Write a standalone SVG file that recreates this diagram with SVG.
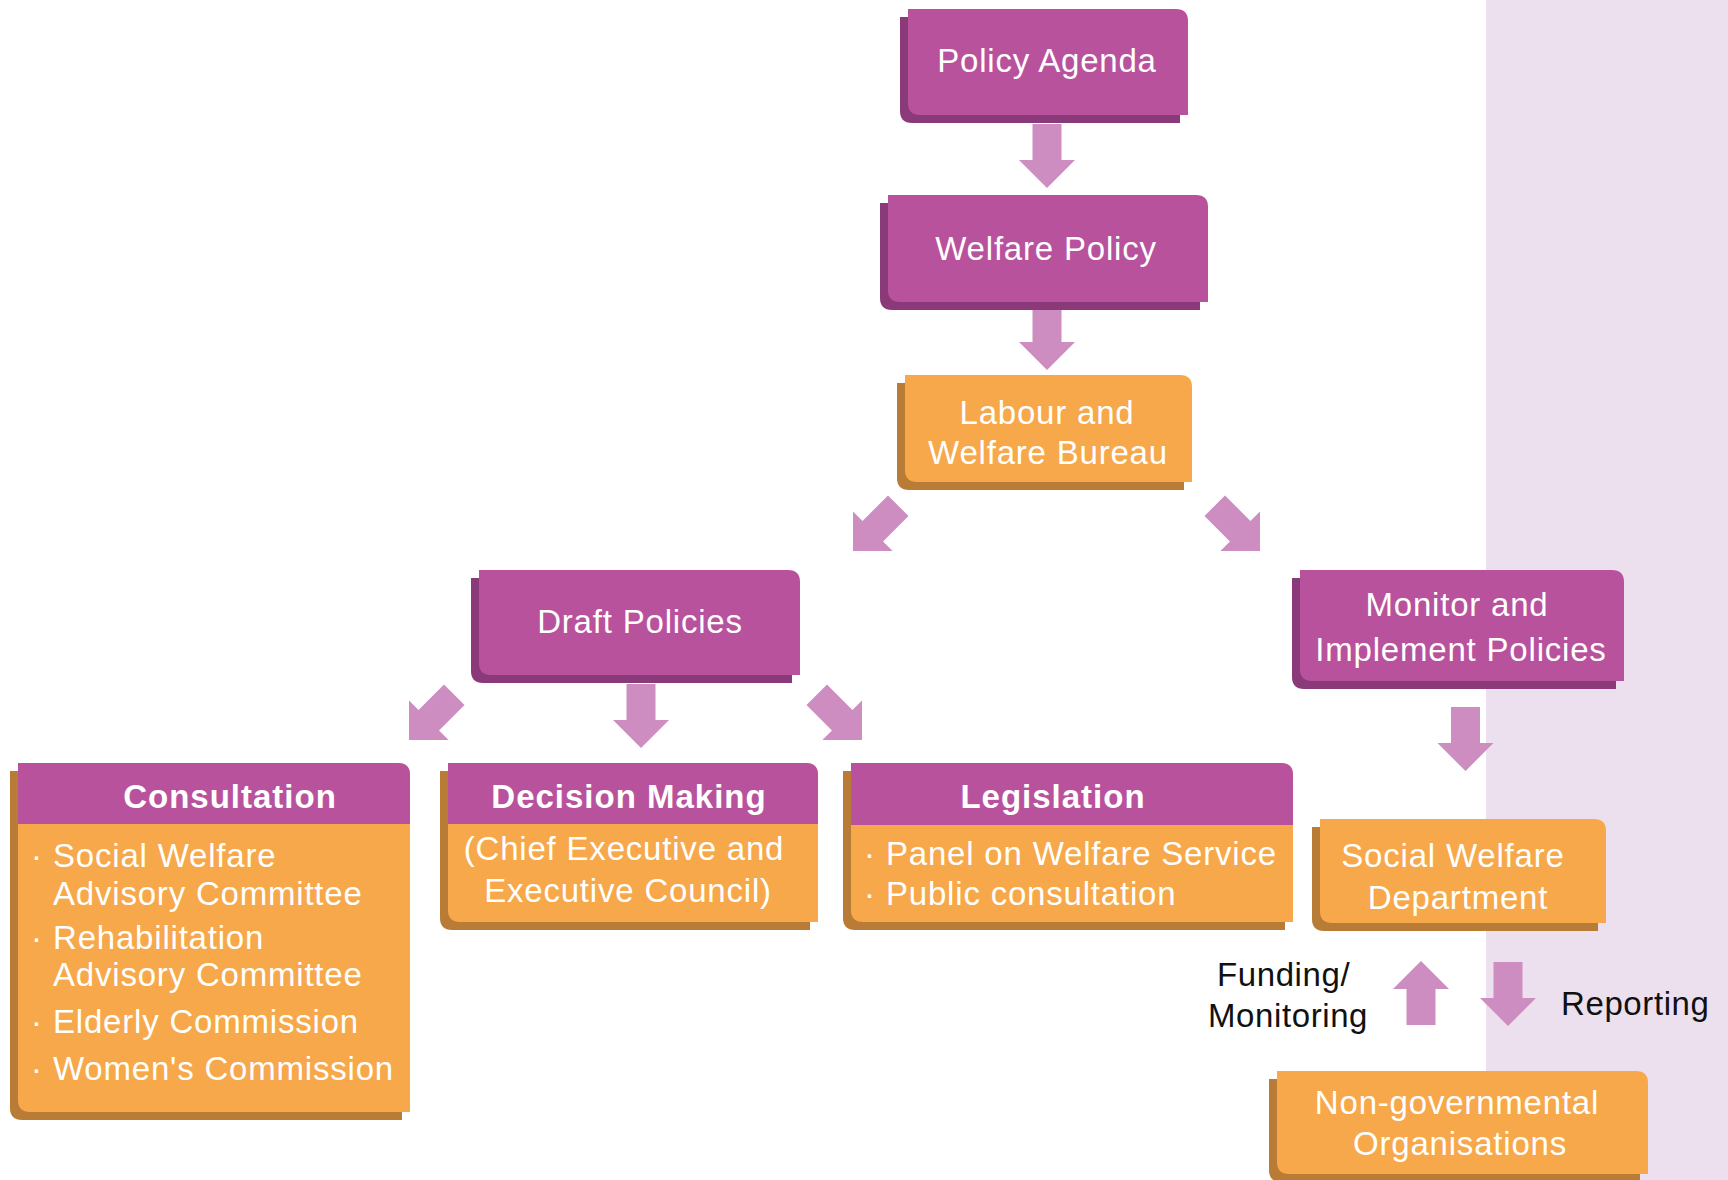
<svg xmlns="http://www.w3.org/2000/svg" xmlns:xlink="http://www.w3.org/1999/xlink" width="1728" height="1180" viewBox="0 0 1728 1180">
<style>
.pm{fill:#b9529d}
.ps{fill:#8b3a79}
.om{fill:#f7a84a}
.os{fill:#b97c36}
.arr{fill:#cd8dc0}
.t{font-family:"Liberation Sans",Arial,sans-serif;font-size:33px;fill:#ffffff;letter-spacing:0.8px}
.c{text-anchor:middle}
.h{font-family:"Liberation Sans",Arial,sans-serif;font-size:33px;font-weight:bold;fill:#ffffff;letter-spacing:1px;text-anchor:middle}
.lbl{font-family:"Liberation Sans",Arial,sans-serif;font-size:33px;fill:#111111;letter-spacing:0.6px}
</style>
<defs>
<path id="arrow" d="M-14.5,-64 H14.5 V-28 H28 L0,0 L-28,-28 H-14.5 Z"/>
</defs>
<rect x="0" y="0" width="1728" height="1180" fill="#ffffff"/>
<rect x="1486" y="0" width="242" height="1180" fill="#ede0ee"/>

<g id="connectors">
<use xlink:href="#arrow" href="#arrow" class="arr" transform="translate(1047,188)"/>
<use xlink:href="#arrow" href="#arrow" class="arr" transform="translate(1047,370)"/>
<use xlink:href="#arrow" href="#arrow" class="arr" transform="translate(853,551) rotate(45)"/>
<use xlink:href="#arrow" href="#arrow" class="arr" transform="translate(1260,551) rotate(-45)"/>
<use xlink:href="#arrow" href="#arrow" class="arr" transform="translate(409,740) rotate(45)"/>
<use xlink:href="#arrow" href="#arrow" class="arr" transform="translate(641,748)"/>
<use xlink:href="#arrow" href="#arrow" class="arr" transform="translate(862,740) rotate(-45)"/>
<use xlink:href="#arrow" href="#arrow" class="arr" transform="translate(1465.5,771)"/>
<use xlink:href="#arrow" href="#arrow" class="arr" transform="translate(1421,961) rotate(180)"/>
<use xlink:href="#arrow" href="#arrow" class="arr" transform="translate(1508,1026)"/>
</g>

<g id="policy-agenda">
<path class="ps" d="M900,17 H1168 Q1180,17 1180,29 V123 H912 Q900,123 900,111 Z"/>
<path class="pm" d="M908,9 H1176 Q1188,9 1188,21 V115 H920 Q908,115 908,103 Z"/>
<text class="t c" x="1047" y="72">Policy Agenda</text>
</g>

<g id="welfare-policy">
<path class="ps" d="M880,203 H1188 Q1200,203 1200,215 V310 H892 Q880,310 880,298 Z"/>
<path class="pm" d="M888,195 H1196 Q1208,195 1208,207 V302 H900 Q888,302 888,290 Z"/>
<text class="t c" x="1046" y="260">Welfare Policy</text>
</g>

<g id="labour-welfare-bureau">
<path class="os" d="M897,383 H1172 Q1184,383 1184,395 V490 H909 Q897,490 897,478 Z"/>
<path class="om" d="M905,375 H1180 Q1192,375 1192,387 V482 H917 Q905,482 905,470 Z"/>
<text class="t c" x="1047" y="424">Labour and</text>
<text class="t c" x="1048" y="464">Welfare Bureau</text>
</g>

<g id="draft-policies">
<path class="ps" d="M471,578 H780 Q792,578 792,590 V683 H483 Q471,683 471,671 Z"/>
<path class="pm" d="M479,570 H788 Q800,570 800,582 V675 H491 Q479,675 479,663 Z"/>
<text class="t c" x="640" y="633">Draft Policies</text>
</g>

<g id="monitor-implement">
<path class="ps" d="M1292,578 H1604 Q1616,578 1616,590 V689 H1304 Q1292,689 1292,677 Z"/>
<path class="pm" d="M1300,570 H1612 Q1624,570 1624,582 V681 H1312 Q1300,681 1300,669 Z"/>
<text class="t c" x="1457" y="616">Monitor and</text>
<text class="t c" x="1461" y="661">Implement Policies</text>
</g>

<g id="consultation">
<path class="os" d="M10,771 H390 Q402,771 402,783 V1120 H22 Q10,1120 10,1108 Z"/>
<path class="om" d="M18,763 H398 Q410,763 410,775 V1112 H30 Q18,1112 18,1100 Z"/>
<path class="pm" d="M18,763 H398 Q410,763 410,775 V824 H18 Z"/>
<text class="h" x="230" y="808">Consultation</text>
<text class="t" x="31" y="867">·</text>
<text class="t" x="53" y="867">Social Welfare</text>
<text class="t" x="53" y="905">Advisory Committee</text>
<text class="t" x="31" y="949">·</text>
<text class="t" x="53" y="949">Rehabilitation</text>
<text class="t" x="53" y="986">Advisory Committee</text>
<text class="t" x="31" y="1033">·</text>
<text class="t" x="53" y="1033">Elderly Commission</text>
<text class="t" x="31" y="1080">·</text>
<text class="t" x="53" y="1080">Women's Commission</text>
</g>

<g id="decision-making">
<path class="os" d="M440,771 H798 Q810,771 810,783 V930 H452 Q440,930 440,918 Z"/>
<path class="om" d="M448,763 H806 Q818,763 818,775 V922 H460 Q448,922 448,910 Z"/>
<path class="pm" d="M448,763 H806 Q818,763 818,775 V824 H448 Z"/>
<text class="h" x="629" y="808">Decision Making</text>
<text class="t c" x="624" y="860">(Chief Executive and</text>
<text class="t c" x="628" y="902">Executive Council)</text>
</g>

<g id="legislation">
<path class="os" d="M843,771 H1273 Q1285,771 1285,783 V930 H855 Q843,930 843,918 Z"/>
<path class="om" d="M851,763 H1281 Q1293,763 1293,775 V922 H863 Q851,922 851,910 Z"/>
<path class="pm" d="M851,763 H1281 Q1293,763 1293,775 V825 H851 Z"/>
<text class="h" x="1053" y="808">Legislation</text>
<text class="t" x="864" y="865">·</text>
<text class="t" x="886" y="865">Panel on Welfare Service</text>
<text class="t" x="864" y="905">·</text>
<text class="t" x="886" y="905">Public consultation</text>
</g>

<g id="social-welfare-department">
<path class="os" d="M1312,827 H1586 Q1598,827 1598,839 V931 H1324 Q1312,931 1312,919 Z"/>
<path class="om" d="M1320,819 H1594 Q1606,819 1606,831 V923 H1332 Q1320,923 1320,911 Z"/>
<text class="t c" x="1453" y="867">Social Welfare</text>
<text class="t c" x="1458" y="909">Department</text>
</g>

<g id="ngo">
<path class="os" d="M1269,1079 H1628 Q1640,1079 1640,1091 V1182 H1281 Q1269,1182 1269,1170 Z"/>
<path class="om" d="M1277,1071 H1636 Q1648,1071 1648,1083 V1174 H1289 Q1277,1174 1277,1162 Z"/>
<text class="t c" x="1457" y="1114">Non-governmental</text>
<text class="t c" x="1460" y="1155">Organisations</text>
</g>

<g id="labels">
<text class="lbl" x="1217" y="986">Funding/</text>
<text class="lbl" x="1208" y="1027">Monitoring</text>
<text class="lbl" x="1561" y="1015">Reporting</text>
</g>
</svg>
